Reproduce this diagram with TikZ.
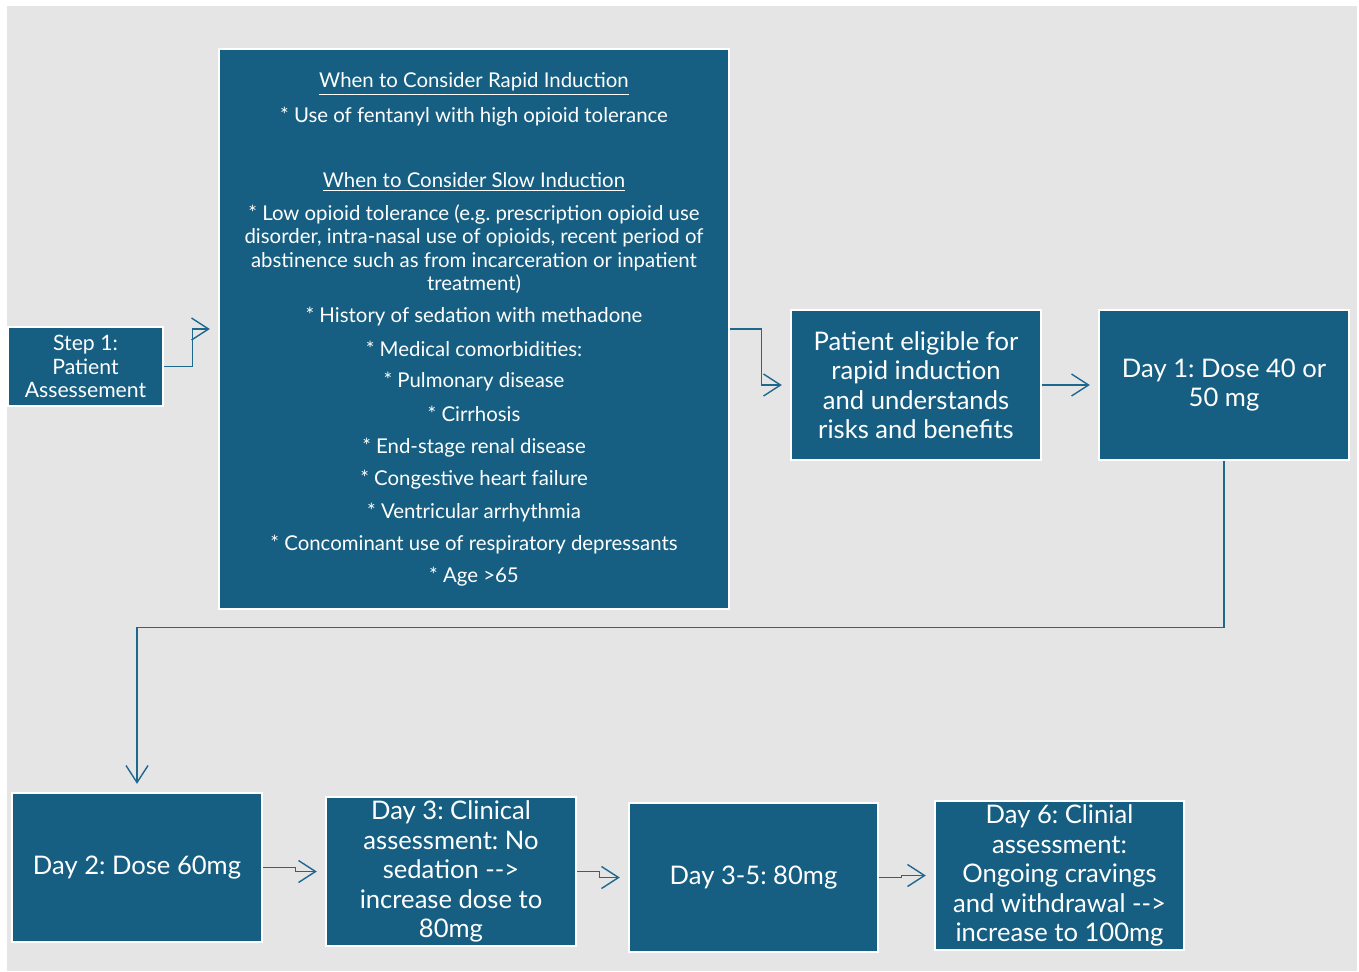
\documentclass[tikz,border=0pt]{standalone}
\usepackage{fontspec}
\setmainfont{Lato}
\usetikzlibrary{arrows.meta}
\definecolor{boxblue}{HTML}{165F82}
\definecolor{bggray}{HTML}{E5E5E5}
\definecolor{linblue}{HTML}{1E6890}
\newcommand{\darr}{-\kern0pt-\kern0pt>}
\frenchspacing
\tikzset{
  box/.style={fill=boxblue, draw=white, line width=1.2pt, text=white, align=center, inner sep=0pt},
  bigtxt/.style={font=\fontsize{12.8pt}{14.7pt}\selectfont},
  smltxt/.style={text=white, font=\fontsize{10.2pt}{11.8pt}\selectfont, inner sep=0pt, align=center},
  conn/.style={draw=linblue, line width=0.7pt, -{Straight Barb[length=8.5pt,width=11pt,line width=0.7pt]}, shorten >=4pt}
}
\begin{document}
\begin{tikzpicture}[x=0.5pt,y=-0.5pt]
\useasboundingbox (0,0) rectangle (1359,971);
\fill[white] (0,0) rectangle (1359,971);
\fill[bggray] (7,6) rectangle (1357,971);

% boxes
\node[box, minimum width=77.5pt, minimum height=39.5pt, font=\fontsize{10.6pt}{11.8pt}\selectfont] (s1) at (85.5,366.5) {Step 1:\\Patient\\Assessement};
\node[box, minimum width=255pt, minimum height=280pt] (big) at (474,329) {};
\node[box, bigtxt, minimum width=125pt, minimum height=75pt] (elig) at (916,385) {Patient eligible for\\rapid induction\\and understands\\risks and benefits};
\node[box, bigtxt, minimum width=125pt, minimum height=75pt] (day1) at (1224,385) {Day 1: Dose 40 or\\50 mg};
\node[box, bigtxt, minimum width=125pt, minimum height=74.5pt] (day2) at (137,867.5) {Day 2: Dose 60mg};
\node[box, bigtxt, minimum width=125pt, minimum height=74.5pt] (day3) at (451,871.5) {Day 3: Clinical\\assessment: No\\sedation \darr\\increase dose to\\80mg};
\node[box, bigtxt, minimum width=124.5pt, minimum height=74.5pt] (day35) at (753.5,877.5) {Day 3-5: 80mg};
\node[box, bigtxt, minimum width=124.5pt, minimum height=74.5pt] (day6) at (1059.5,875.5) {Day 6: Clinial\\assessment:\\Ongoing cravings\\and withdrawal \darr\\increase to 100mg};

% text lines of big box
\node[smltxt] (t1) at (474,84) {\underline{When to Consider Rapid Induction}};
\node[smltxt] (t2) at (474,117) {* Use of fentanyl with high opioid tolerance};
\node[smltxt] (t3) at (474,182) {\underline{When to Consider Slow Induction}};
\node[smltxt] (t4) at (474,249) {* Low opioid tolerance (e.g. prescription opioid use\\disorder, intra-nasal use of opioids, recent period of\\abstinence such as from incarceration or inpatient\\treatment)};
\node[smltxt] (t5) at (474,317) {* History of sedation with methadone};
\node[smltxt] (t6) at (474,349) {* Medical comorbidities:};
\node[smltxt] (t7) at (474,382) {* Pulmonary disease};
\node[smltxt] (t8) at (474,414) {* Cirrhosis};
\node[smltxt] (t9) at (474,448) {* End-stage renal disease};
\node[smltxt] (t10) at (474,480) {* Congestive heart failure};
\node[smltxt] (t11) at (474,513) {* Ventricular arrhythmia};
\node[smltxt] (t12) at (474,545) {* Concominant use of respiratory depressants};
\node[smltxt] (t13) at (474,577) {* Age >65};

% connectors
\draw[conn] (s1.east) -- ++(28,0) |- (big.west);
\draw[conn] (big.east) -- ++(31,0) |- (elig.west);
\draw[conn] (elig.east) -- (day1.west);
\draw[conn] (day1.south) -- ++(0,166) -| (day2.north);
\draw[conn] (day2.east) -- ++(32,0) |- (day3.west);
\draw[conn] (day3.east) -- ++(22,0) |- (day35.west);
\draw[conn] (day35.east) -- ++(22,0) |- (day6.west);
\end{tikzpicture}
\end{document}
